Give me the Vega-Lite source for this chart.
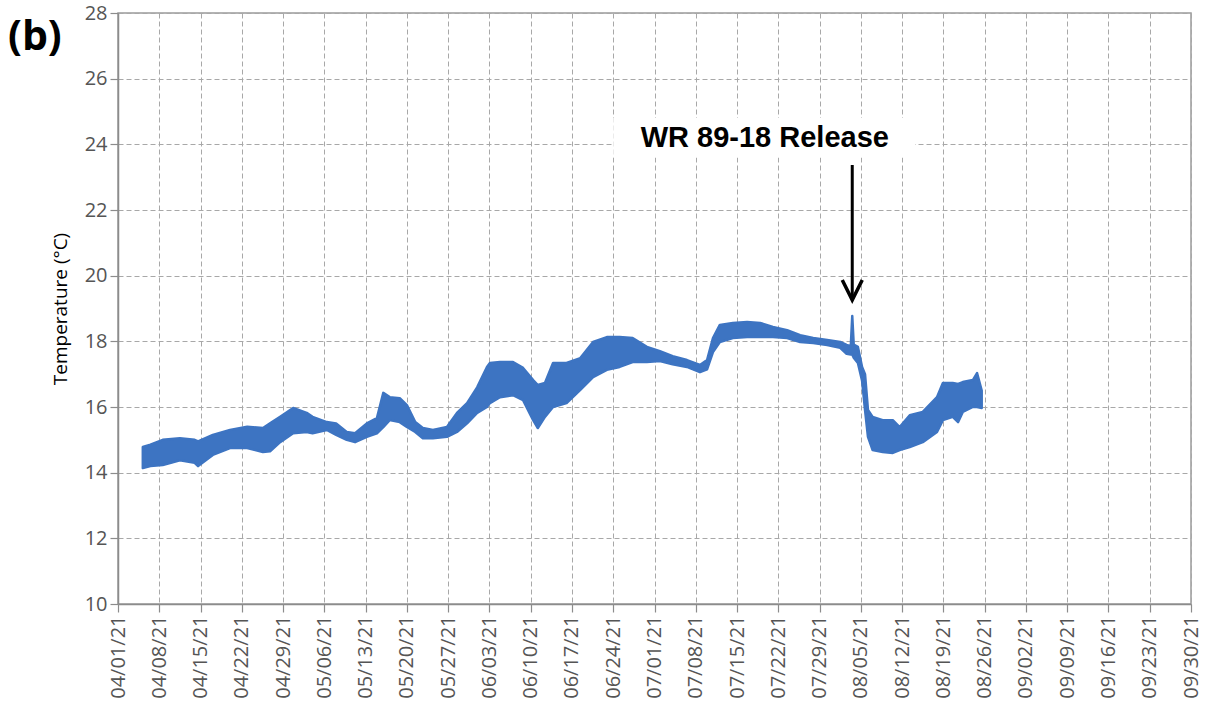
{
  "$schema": "https://vega.github.io/schema/vega-lite/v6.json",
  "width": 1073,
  "height": 591,
  "autosize": "none",
  "padding": {"left": 118, "top": 13, "right": 26, "bottom": 115},
  "background": "white",
  "title": {"text": "(b)", "anchor": "start", "frame": "group", "orient": "top", "dx": -110, "dy": 56, "offset": 0, "fontSize": 41, "fontWeight": "bold", "font": "Open Sans", "color": "#000000"},
  "config": {
    "view": {"stroke": "#9a9a9a", "strokeWidth": 1.5},
    "axis": {
      "gridColor": "#a8a8a8", "gridDash": [5, 3], "gridWidth": 1,
      "domainColor": "#8c8c8c", "domainWidth": 1.5,
      "tickColor": "#8c8c8c", "tickSize": 8, "tickWidth": 1.2,
      "labelFont": "Open Sans", "labelFontSize": 20, "labelColor": "#555555",
      "titleFont": "Open Sans"
    }
  },
  "datasets": {
    "temp": [
      {"date": "2021-04-05T05:00:00Z", "lo": 14.14, "hi": 14.78},
      {"date": "2021-04-06T12:00:00Z", "lo": 14.2, "hi": 14.85},
      {"date": "2021-04-08T14:00:00Z", "lo": 14.23, "hi": 15.0},
      {"date": "2021-04-11T12:00:00Z", "lo": 14.38, "hi": 15.05},
      {"date": "2021-04-14T00:00:00Z", "lo": 14.3, "hi": 15.0},
      {"date": "2021-04-14T14:00:00Z", "lo": 14.2, "hi": 14.95},
      {"date": "2021-04-17T02:00:00Z", "lo": 14.54, "hi": 15.15},
      {"date": "2021-04-20T00:00:00Z", "lo": 14.75, "hi": 15.3},
      {"date": "2021-04-22T22:00:00Z", "lo": 14.75, "hi": 15.4},
      {"date": "2021-04-25T14:00:00Z", "lo": 14.63, "hi": 15.36},
      {"date": "2021-04-26T19:00:00Z", "lo": 14.65, "hi": 15.5},
      {"date": "2021-04-28T12:00:00Z", "lo": 14.93, "hi": 15.7},
      {"date": "2021-04-30T17:00:00Z", "lo": 15.2, "hi": 15.97},
      {"date": "2021-05-03T00:00:00Z", "lo": 15.24, "hi": 15.82},
      {"date": "2021-05-04T00:00:00Z", "lo": 15.2, "hi": 15.7},
      {"date": "2021-05-06T10:00:00Z", "lo": 15.3, "hi": 15.54},
      {"date": "2021-05-08T00:00:00Z", "lo": 15.15, "hi": 15.5},
      {"date": "2021-05-09T19:00:00Z", "lo": 15.0, "hi": 15.24},
      {"date": "2021-05-11T05:00:00Z", "lo": 14.93, "hi": 15.2},
      {"date": "2021-05-13T05:00:00Z", "lo": 15.09, "hi": 15.5},
      {"date": "2021-05-14T22:00:00Z", "lo": 15.2, "hi": 15.66},
      {"date": "2021-05-16T00:00:00Z", "lo": 15.39, "hi": 16.43},
      {"date": "2021-05-17T02:00:00Z", "lo": 15.6, "hi": 16.3},
      {"date": "2021-05-18T19:00:00Z", "lo": 15.54, "hi": 16.27},
      {"date": "2021-05-20T00:00:00Z", "lo": 15.39, "hi": 16.06},
      {"date": "2021-05-21T10:00:00Z", "lo": 15.24, "hi": 15.54},
      {"date": "2021-05-22T17:00:00Z", "lo": 15.05, "hi": 15.36},
      {"date": "2021-05-24T10:00:00Z", "lo": 15.05, "hi": 15.3},
      {"date": "2021-05-26T19:00:00Z", "lo": 15.09, "hi": 15.39},
      {"date": "2021-05-28T12:00:00Z", "lo": 15.24, "hi": 15.82},
      {"date": "2021-05-30T05:00:00Z", "lo": 15.5, "hi": 16.12},
      {"date": "2021-05-31T22:00:00Z", "lo": 15.82, "hi": 16.6},
      {"date": "2021-06-02T14:00:00Z", "lo": 16.0, "hi": 17.22},
      {"date": "2021-06-03T02:00:00Z", "lo": 16.12, "hi": 17.34},
      {"date": "2021-06-04T19:00:00Z", "lo": 16.3, "hi": 17.37},
      {"date": "2021-06-07T00:00:00Z", "lo": 16.36, "hi": 17.37},
      {"date": "2021-06-08T17:00:00Z", "lo": 16.21, "hi": 17.19},
      {"date": "2021-06-10T10:00:00Z", "lo": 15.6, "hi": 16.82},
      {"date": "2021-06-11T05:00:00Z", "lo": 15.36, "hi": 16.67},
      {"date": "2021-06-12T10:00:00Z", "lo": 15.7, "hi": 16.73},
      {"date": "2021-06-13T19:00:00Z", "lo": 16.0, "hi": 17.34},
      {"date": "2021-06-16T02:00:00Z", "lo": 16.12, "hi": 17.34},
      {"date": "2021-06-18T10:00:00Z", "lo": 16.52, "hi": 17.49},
      {"date": "2021-06-20T14:00:00Z", "lo": 16.91, "hi": 17.98},
      {"date": "2021-06-22T22:00:00Z", "lo": 17.13, "hi": 18.13},
      {"date": "2021-06-25T02:00:00Z", "lo": 17.22, "hi": 18.13},
      {"date": "2021-06-27T07:00:00Z", "lo": 17.37, "hi": 18.1},
      {"date": "2021-06-29T17:00:00Z", "lo": 17.37, "hi": 17.83},
      {"date": "2021-07-01T22:00:00Z", "lo": 17.4, "hi": 17.7},
      {"date": "2021-07-04T02:00:00Z", "lo": 17.3, "hi": 17.55},
      {"date": "2021-07-06T12:00:00Z", "lo": 17.22, "hi": 17.43},
      {"date": "2021-07-08T17:00:00Z", "lo": 17.06, "hi": 17.28},
      {"date": "2021-07-09T22:00:00Z", "lo": 17.15, "hi": 17.43},
      {"date": "2021-07-10T22:00:00Z", "lo": 17.67, "hi": 18.1},
      {"date": "2021-07-12T02:00:00Z", "lo": 17.98, "hi": 18.5},
      {"date": "2021-07-14T07:00:00Z", "lo": 18.1, "hi": 18.56},
      {"date": "2021-07-16T17:00:00Z", "lo": 18.13, "hi": 18.59},
      {"date": "2021-07-18T22:00:00Z", "lo": 18.13, "hi": 18.56},
      {"date": "2021-07-21T02:00:00Z", "lo": 18.13, "hi": 18.44},
      {"date": "2021-07-23T12:00:00Z", "lo": 18.1, "hi": 18.34},
      {"date": "2021-07-25T17:00:00Z", "lo": 17.98, "hi": 18.19},
      {"date": "2021-07-27T22:00:00Z", "lo": 17.95, "hi": 18.1},
      {"date": "2021-07-30T07:00:00Z", "lo": 17.89, "hi": 18.04},
      {"date": "2021-08-01T12:00:00Z", "lo": 17.8, "hi": 17.98},
      {"date": "2021-08-02T14:00:00Z", "lo": 17.62, "hi": 17.89},
      {"date": "2021-08-03T07:00:00Z", "lo": 17.6, "hi": 17.85},
      {"date": "2021-08-03T13:00:00Z", "lo": 17.6, "hi": 18.77},
      {"date": "2021-08-03T19:00:00Z", "lo": 17.5, "hi": 17.9},
      {"date": "2021-08-04T12:00:00Z", "lo": 17.34, "hi": 17.83},
      {"date": "2021-08-05T05:00:00Z", "lo": 16.8, "hi": 17.22},
      {"date": "2021-08-05T17:00:00Z", "lo": 15.91, "hi": 17.0},
      {"date": "2021-08-06T05:00:00Z", "lo": 15.09, "hi": 15.91},
      {"date": "2021-08-07T00:00:00Z", "lo": 14.69, "hi": 15.7},
      {"date": "2021-08-08T17:00:00Z", "lo": 14.63, "hi": 15.6},
      {"date": "2021-08-10T10:00:00Z", "lo": 14.6, "hi": 15.6},
      {"date": "2021-08-11T14:00:00Z", "lo": 14.69, "hi": 15.39},
      {"date": "2021-08-13T07:00:00Z", "lo": 14.78, "hi": 15.75},
      {"date": "2021-08-15T12:00:00Z", "lo": 14.93, "hi": 15.85},
      {"date": "2021-08-17T22:00:00Z", "lo": 15.24, "hi": 16.3},
      {"date": "2021-08-18T22:00:00Z", "lo": 15.6, "hi": 16.73},
      {"date": "2021-08-20T14:00:00Z", "lo": 15.7, "hi": 16.73},
      {"date": "2021-08-21T12:00:00Z", "lo": 15.54, "hi": 16.7},
      {"date": "2021-08-22T07:00:00Z", "lo": 15.85, "hi": 16.76},
      {"date": "2021-08-24T00:00:00Z", "lo": 16.0, "hi": 16.82},
      {"date": "2021-08-24T17:00:00Z", "lo": 16.0, "hi": 17.03},
      {"date": "2021-08-25T12:00:00Z", "lo": 15.97, "hi": 16.5}
    ],
    "note": [
      {"date": "2021-07-19T17:00:00Z", "t": 24.2, "label": "WR 89-18 Release", "x0": "2021-06-24T00:00:00Z", "x1": "2021-08-14T05:00:00Z", "t0": 23.6, "t1": 24.8}
    ],
    "arrow": [
      {"date": "2021-08-03T13:00:00Z", "top": 23.37, "tip": 19.26}
    ]
  },
  "layer": [
    {
      "data": {"name": "temp"},
      "mark": {"type": "area", "color": "#3D74C2", "stroke": "#3D74C2", "strokeWidth": 2.5, "strokeJoin": "round"},
      "encoding": {
        "x": {
          "field": "date", "type": "temporal",
          "scale": {"type": "utc", "domain": [{"year": 2021, "month": 4, "date": 1, "utc": true}, {"year": 2021, "month": 9, "date": 30, "utc": true}]},
          "axis": {
            "title": null, "labelExpr": "utcFormat(datum.value, '%m/%d/%y')", "labelAngle": 270, "labelPadding": 3,
            "values": [
              {"year": 2021, "month": 4, "date": 1, "utc": true},
              {"year": 2021, "month": 4, "date": 8, "utc": true},
              {"year": 2021, "month": 4, "date": 15, "utc": true},
              {"year": 2021, "month": 4, "date": 22, "utc": true},
              {"year": 2021, "month": 4, "date": 29, "utc": true},
              {"year": 2021, "month": 5, "date": 6, "utc": true},
              {"year": 2021, "month": 5, "date": 13, "utc": true},
              {"year": 2021, "month": 5, "date": 20, "utc": true},
              {"year": 2021, "month": 5, "date": 27, "utc": true},
              {"year": 2021, "month": 6, "date": 3, "utc": true},
              {"year": 2021, "month": 6, "date": 10, "utc": true},
              {"year": 2021, "month": 6, "date": 17, "utc": true},
              {"year": 2021, "month": 6, "date": 24, "utc": true},
              {"year": 2021, "month": 7, "date": 1, "utc": true},
              {"year": 2021, "month": 7, "date": 8, "utc": true},
              {"year": 2021, "month": 7, "date": 15, "utc": true},
              {"year": 2021, "month": 7, "date": 22, "utc": true},
              {"year": 2021, "month": 7, "date": 29, "utc": true},
              {"year": 2021, "month": 8, "date": 5, "utc": true},
              {"year": 2021, "month": 8, "date": 12, "utc": true},
              {"year": 2021, "month": 8, "date": 19, "utc": true},
              {"year": 2021, "month": 8, "date": 26, "utc": true},
              {"year": 2021, "month": 9, "date": 2, "utc": true},
              {"year": 2021, "month": 9, "date": 9, "utc": true},
              {"year": 2021, "month": 9, "date": 16, "utc": true},
              {"year": 2021, "month": 9, "date": 23, "utc": true},
              {"year": 2021, "month": 9, "date": 30, "utc": true}
            ]
          }
        },
        "y": {
          "field": "hi", "type": "quantitative",
          "scale": {"domain": [10, 28], "nice": false, "zero": false},
          "axis": {"title": "Temperature (°C)", "values": [10, 12, 14, 16, 18, 20, 22, 24, 26, 28], "titleFontSize": 19, "titleFontWeight": "normal", "titleColor": "#000000", "titlePadding": 14, "labelPadding": 3}
        },
        "y2": {"field": "lo"}
      }
    },
    {
      "data": {"name": "note"},
      "mark": {"type": "rect", "color": "white"},
      "encoding": {
        "x": {"field": "x0", "type": "temporal"},
        "x2": {"field": "x1"},
        "y": {"field": "t0", "type": "quantitative"},
        "y2": {"field": "t1"}
      }
    },
    {
      "data": {"name": "note"},
      "mark": {"type": "text", "font": "Liberation Sans", "fontWeight": "bold", "fontSize": 29, "color": "#000000", "align": "center", "baseline": "middle"},
      "encoding": {
        "x": {"field": "date", "type": "temporal"},
        "y": {"field": "t", "type": "quantitative"},
        "text": {"field": "label"}
      }
    },
    {
      "data": {"name": "arrow"},
      "mark": {"type": "rule", "color": "#000000", "strokeWidth": 3},
      "encoding": {
        "x": {"field": "date", "type": "temporal"},
        "y": {"field": "top", "type": "quantitative"},
        "y2": {"field": "tip"}
      }
    },
    {
      "data": {"name": "arrow"},
      "mark": {"type": "point", "shape": "M-1,-2L0,0L1,-2", "filled": false, "stroke": "#000000", "strokeWidth": 3.5, "size": 400, "opacity": 1},
      "encoding": {
        "x": {"field": "date", "type": "temporal"},
        "y": {"field": "tip", "type": "quantitative"}
      }
    }
  ]
}
